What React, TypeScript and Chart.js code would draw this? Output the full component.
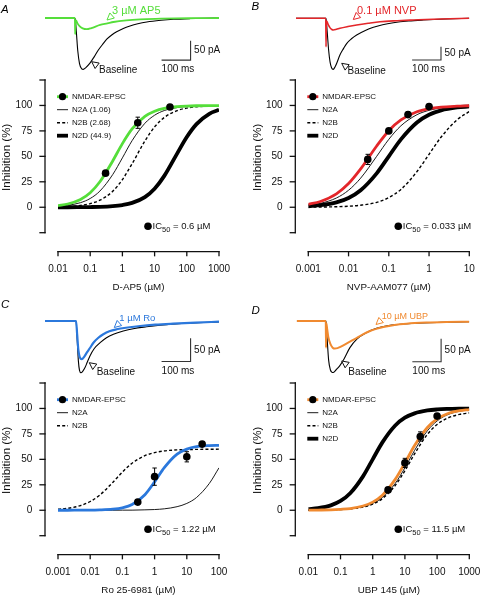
import React, { useEffect, useRef } from 'react';
import { Chart, registerables } from 'chart.js';

Chart.register(...registerables);

const FONT = '"Liberation Sans", Arial, Helvetica, sans-serif';

const GREEN = '#55de3a';
const RED = '#e3262a';
const BLUE = '#2b78dc';
const ORANGE = '#f08a30';

// ---------- shared y axis ----------
const yTicks = [-25, 0, 25, 50, 75, 100, 125];
const yTickLabels = ['', '0', '25', '50', '75', '100', ''];

// ---------- Panel A: D-AP5 ----------
const concA = [0.01, 0.02, 0.05, 0.1, 0.2, 0.5, 1, 2, 5, 10, 20, 50, 100, 200, 500, 1000];
const epscFitA = [1.6, 3.2, 7.7, 14.3, 25, 45.5, 62.5, 76.9, 89.3, 94.3, 97.1, 98.8, 99.4, 99.7, 99.9, 99.9];
const n2aFitA = [0.9, 1.9, 4.5, 8.6, 15.9, 32.1, 48.5, 65.4, 82.5, 90.4, 95.0, 97.9, 99.0, 99.5, 99.8, 99.9];
const n2bFitA = [0.4, 0.7, 1.8, 3.6, 6.9, 15.7, 27.2, 42.7, 65.1, 78.9, 88.2, 94.9, 97.4, 98.7, 99.5, 99.7];
const n2dFitA = [0, 0, 0.1, 0.2, 0.4, 1.1, 2.2, 4.3, 10.0, 18.2, 30.8, 52.7, 69.0, 81.7, 91.8, 95.7];
const doseA = [0.3, 3, 30];
const meanA = [33.5, 83, 98.5];
const semA = [2, 5.5, 1];
const xTicksA = [0.01, 0.1, 1, 10, 100, 1000];
const xTickLabelsA = ['0.01', '0.1', '1', '10', '100', '1000'];
const legendA = ['NMDAR-EPSC', 'N2A (1.06)', 'N2B (2.68)', 'N2D (44.9)'];
const baseTimeA = [0, 100, 104, 108, 113, 119, 126, 132, 140, 155, 170, 184, 200, 213, 230, 247, 270, 293, 320, 351, 400, 443, 500, 550, 600];
const baseCurrentA = [0, 0, -2, -35, -85, -118, -131, -133, -129, -117, -100, -83, -67, -55, -44, -35.5, -27, -20.7, -15, -10.4, -6, -3.4, -1.5, -0.5, 0];
const drugTimeA = [0, 100, 103, 104, 105, 107, 112, 120, 130, 144, 160, 190, 215, 236, 280, 328, 400, 450, 520, 600];
const drugCurrentA = [0, 0, 0, -42, -8, -6, -14, -22, -27, -29, -26, -18, -14, -10.4, -6, -3.4, -1.8, -1, -0.5, 0];

// ---------- Panel B: NVP-AAM077 ----------
const concB = [0.001, 0.002, 0.005, 0.01, 0.02, 0.05, 0.1, 0.2, 0.5, 1, 2, 5, 10];
const epscFitB = [2.9, 5.7, 13.2, 23.3, 37.7, 60.2, 75.2, 85.8, 93.8, 96.8, 98.4, 99.3, 99.7];
const n2aFitB = [2.0, 3.8, 9.1, 16.7, 28.6, 50, 66.7, 80, 90.9, 95.2, 97.6, 99.0, 99.5];
const n2bFitB = [0.1, 0.2, 0.5, 1.0, 2.0, 4.8, 9.5, 17.5, 35, 52, 69, 86, 94];
const n2dFitB = [1.0, 2.0, 4.8, 9.1, 16.7, 33.3, 50, 66.7, 83.3, 90.9, 95.2, 98.0, 99.0];
const doseB = [0.03, 0.1, 0.3, 1];
const meanB = [47, 75, 91, 99];
const semB = [5, 2, 2, 1];
const xTicksB = [0.001, 0.01, 0.1, 1, 10];
const xTickLabelsB = ['0.001', '0.01', '0.1', '1', '10'];
const legendB = ['NMDAR-EPSC', 'N2A', 'N2B', 'N2D'];
const baseTimeB = [0, 100, 104, 108, 113, 118, 123, 129, 135, 141, 152, 165, 176, 192, 210, 240, 268, 300, 337, 390, 441, 520, 600];
const baseCurrentB = [0, 0, 0, -50, -120, -165, -186, -192, -183, -169, -138, -113, -94, -77, -63, -46, -34, -24, -16.5, -10, -6.4, -2.5, 0];
const drugTimeB = [0, 100, 103, 104, 105, 107, 112, 118, 124, 129, 140, 152, 180, 210, 250, 291, 350, 406, 500, 600];
const drugCurrentB = [0, 0, 0, -107, -10, -12, -25, -36, -42, -44, -41.5, -37.6, -31, -25, -18.5, -12.8, -9, -6.4, -2.5, 0];

// ---------- Panel C: Ro 25-6981 ----------
const concC = [0.001, 0.002, 0.005, 0.01, 0.02, 0.05, 0.1, 0.2, 0.5, 1, 2, 5, 10, 20, 50, 100];
const epscFitC = [0, 0, 0.1, 0.1, 0.3, 1.0, 2.4, 5.6, 15.3, 27.9, 41.9, 55.2, 60.1, 62.4, 63.5, 63.8];
const n2aFitC = [0, 0, 0, 0, 0, 0, 0.1, 0.1, 0.4, 0.7, 1.4, 3.5, 6.7, 12.5, 26.3, 41.7];
const n2bFitC = [1.0, 1.9, 4.6, 8.6, 15, 27.3, 37.5, 46.2, 53.6, 56.6, 58.3, 59.3, 59.6, 59.8, 59.9, 60];
const doseC = [0.3, 1, 10, 30];
const meanC = [8, 33, 52.5, 65];
const semC = [2.5, 8.5, 5, 2];
const xTicksC = [0.001, 0.01, 0.1, 1, 10, 100];
const xTickLabelsC = ['0.001', '0.01', '0.1', '1', '10', '100'];
const legendC = ['NMDAR-EPSC', 'N2A', 'N2B'];
const baseTimeC = [0, 100, 107, 111, 115, 119, 124, 130, 138, 146, 155, 170, 190, 212, 236, 270, 304, 350, 397, 450, 489, 550, 600];
const baseCurrentC = [0, 0, 0, -40, -85, -106, -111, -108, -100, -88, -75, -59, -46.6, -36, -28.5, -21.5, -16.5, -12.5, -9.2, -6.5, -4.9, -3.2, -2.1];
const drugTimeC = [0, 100, 107, 111, 115, 120, 127, 135, 144, 155, 167, 184, 201, 222, 247, 285, 328, 380, 442, 520, 600];
const drugCurrentC = [0, 0, 0, -30, -62, -78, -82, -77, -68, -58, -46.6, -36, -28.5, -22, -17.8, -14, -10.7, -8, -5.8, -3.5, -1.5];

// ---------- Panel D: UBP 145 ----------
const concD = [0.01, 0.02, 0.05, 0.1, 0.2, 0.5, 1, 2, 5, 10, 20, 50, 100, 200, 500, 1000];
const epscFitD = [0.1, 0.2, 0.4, 0.9, 1.7, 4.2, 8.0, 14.8, 30.3, 46.5, 63.5, 81.3, 89.7, 94.6, 97.8, 98.9];
const n2aFitD = [0.1, 0.1, 0.4, 0.7, 1.4, 3.4, 6.7, 12.5, 26.3, 41.7, 58.8, 78.1, 87.7, 93.5, 97.3, 98.6];
const n2bFitD = [0.1, 0.1, 0.3, 0.6, 1.3, 3.1, 6.1, 11.4, 24.3, 38.8, 55.4, 74.6, 84.3, 90.2, 94.2, 95.6];
const n2dFitD = [1.0, 2.0, 4.8, 9.1, 16.7, 33.3, 50, 66.7, 83.3, 90.9, 95.2, 98.0, 99.0, 99.5, 99.8, 99.9];
const doseD = [3, 10, 30, 100];
const meanD = [20, 46.5, 72.5, 92.5];
const semD = [2, 4.5, 4.5, 1.5];
const xTicksD = [0.01, 0.1, 1, 10, 100, 1000];
const xTickLabelsD = ['0.01', '0.1', '1', '10', '100', '1000'];
const legendD = ['NMDAR-EPSC', 'N2A', 'N2B', 'N2D'];
const baseTimeD = [0, 100, 102, 106, 111, 117, 122, 127, 133, 140, 150, 165, 185, 210, 240, 280, 330, 400, 500, 600];
const baseCurrentD = [0, 0, 0, -40, -85, -106, -111, -112, -109, -104, -97, -82, -58, -39, -26, -15.5, -9, -5.5, -3, -1.5];
const drugTimeD = [0, 100, 101, 102, 103, 106, 110, 117, 125, 133, 142, 150, 162, 185, 208, 230, 255, 280, 301, 340, 382, 450, 520, 600];
const drugCurrentD = [0, 0, 0, -58, -5, -18, -35, -50, -58, -60, -59, -57, -53, -45, -37, -29, -21.7, -16.5, -13, -8.5, -5.8, -3.5, -2.2, -1.5];

const toXY = (xs: number[], ys: number[]) => xs.map((x, i) => ({ x, y: ys[i] }));

const PANELS = [
  {
    letter: 'A', ox: 0, oy: 0, letterTop: 3.5, letterLeft: 1,
    color: GREEN, drugLabel: '3 µM AP5', drugSize: 11, drugText: [112, 11], drugTip: [107, 20],
    baseTip: [91.7, 61.7], baseText: [99, 70],
    traceLeft: 45, traceRight: 219, yMin: -160.6, yMax: 46.6, barI: -109, drugWidth: 1.8,
    baseTime: baseTimeA, baseCurrent: baseCurrentA, drugTime: drugTimeA, drugCurrent: drugCurrentA,
    chartLeft: 58, chartRight: 219,
    conc: concA, fit: epscFitA, n2a: n2aFitA, n2b: n2bFitA, n2d: n2dFitA,
    dose: doseA, mean: meanA, sem: semA, xTicks: xTicksA, xTickLabels: xTickLabelsA,
    legend: legendA, title: 'D-AP5 (µM)', ic50: '0.6 µM',
  },
  {
    letter: 'B', ox: 250, oy: 0, letterTop: 1.2, letterLeft: 1.5,
    color: RED, drugLabel: '0.1 µM NVP', drugSize: 11, drugText: [107, 11], drugTip: [103.3, 19.5],
    baseTip: [91.7, 63.3], baseText: [97.5, 71.5],
    traceLeft: 46, traceRight: 219.3, yMin: -232, yMax: 68.8, barI: -157, drugWidth: 1.6,
    baseTime: baseTimeB, baseCurrent: baseCurrentB, drugTime: drugTimeB, drugCurrent: drugCurrentB,
    chartLeft: 58.3, chartRight: 219.3,
    conc: concB, fit: epscFitB, n2a: n2aFitB, n2b: n2bFitB, n2d: n2dFitB,
    dose: doseB, mean: meanB, sem: semB, xTicks: xTicksB, xTickLabels: xTickLabelsB,
    legend: legendB, title: 'NVP-AAM077 (µM)', ic50: '0.033 µM',
  },
  {
    letter: 'C', ox: 0, oy: 303, letterTop: -4.5, letterLeft: 1,
    color: BLUE, drugLabel: '1 µM Ro', drugSize: 9.5, drugText: [119.3, 15.7], drugTip: [114.3, 24.5],
    baseTip: [89.3, 59.7], baseText: [96.7, 69],
    traceLeft: 45, traceRight: 219, yMin: -133.1, yMax: 38.6, barI: -87, drugWidth: 2.2,
    baseTime: baseTimeC, baseCurrent: baseCurrentC, drugTime: drugTimeC, drugCurrent: drugCurrentC,
    chartLeft: 58, chartRight: 219,
    conc: concC, fit: epscFitC, n2a: n2aFitC, n2b: n2bFitC, n2d: null,
    dose: doseC, mean: meanC, sem: semC, xTicks: xTicksC, xTickLabels: xTickLabelsC,
    legend: legendC, title: 'Ro 25-6981 (µM)', ic50: '1.22 µM',
  },
  {
    letter: 'D', ox: 250, oy: 303, letterTop: 1.5, letterLeft: 1.5,
    color: ORANGE, drugLabel: '10 µM UBP', drugSize: 9, drugText: [131.7, 13.5], drugTip: [126, 21.5],
    baseTip: [91.7, 58], baseText: [98.3, 69],
    traceLeft: 46.7, traceRight: 219.3, yMin: -134.8, yMax: 39.1, barI: -88.5, drugWidth: 2,
    baseTime: baseTimeD, baseCurrent: baseCurrentD, drugTime: drugTimeD, drugCurrent: drugCurrentD,
    chartLeft: 58.3, chartRight: 219.3,
    conc: concD, fit: epscFitD, n2a: n2aFitD, n2b: n2bFitD, n2d: n2dFitD,
    dose: doseD, mean: meanD, sem: semD, xTicks: xTicksD, xTickLabels: xTickLabelsD,
    legend: legendD, title: 'UBP 145 (µM)', ic50: '11.5 µM',
  },
];

const CANVAS_W = 230;
const TRACE_H = 80;
const DOSE_TOP = 76;
const DOSE_H = 220;

function drawTriangle(ctx: any, tx: number, ty: number, dx: number, dy: number, color: string) {
  const len = Math.hypot(dx, dy);
  const ux = dx / len, uy = dy / len;
  const L = 6.8, W = 3.4;
  const bx = tx - ux * L, by = ty - uy * L;
  ctx.beginPath();
  ctx.moveTo(tx, ty);
  ctx.lineTo(bx - uy * W, by + ux * W);
  ctx.lineTo(bx + uy * W, by - ux * W);
  ctx.closePath();
  ctx.fillStyle = '#fff';
  ctx.fill();
  ctx.strokeStyle = color;
  ctx.lineWidth = 1;
  ctx.stroke();
}

function TraceChart({ p }: any) {
  const ref = useRef<HTMLCanvasElement | null>(null);
  useEffect(() => {
    const deco = {
      id: 'traceDeco',
      afterDraw(chart: any) {
        const { ctx, scales } = chart;
        const x = scales.x, y = scales.y;
        ctx.save();
        // scale bar
        const cx = x.getPixelForValue(502);
        const cy = y.getPixelForValue(p.barI);
        const topY = y.getPixelForValue(p.barI + 50);
        const lx = x.getPixelForValue(402);
        ctx.strokeStyle = '#333';
        ctx.lineWidth = 1.1;
        ctx.beginPath();
        ctx.moveTo(cx, topY);
        ctx.lineTo(cx, cy);
        ctx.lineTo(lx, cy);
        ctx.stroke();
        ctx.fillStyle = '#111';
        ctx.font = `10px ${FONT}`;
        ctx.textBaseline = 'middle';
        ctx.textAlign = 'left';
        ctx.fillText('50 pA', cx + 3.5, (cy + topY) / 2);
        ctx.fillText('100 ms', lx, cy + 9.5);
        // baseline label
        drawTriangle(ctx, p.baseTip[0], p.baseTip[1], -0.8, -0.6, '#111');
        ctx.fillStyle = '#111';
        ctx.font = `10px ${FONT}`;
        ctx.fillText('Baseline', p.baseText[0], p.baseText[1]);
        // drug label
        drawTriangle(ctx, p.drugTip[0], p.drugTip[1], -0.75, 0.66, p.color);
        ctx.fillStyle = p.color;
        ctx.font = `${p.drugSize}px ${FONT}`;
        ctx.fillText(p.drugLabel, p.drugText[0], p.drugText[1]);
        ctx.restore();
      },
    };
    const chart = new Chart(ref.current as any, {
      type: 'line',
      data: {
        datasets: [
          {
            data: toXY(p.drugTime, p.drugCurrent), borderColor: p.color, borderWidth: p.drugWidth,
            pointRadius: 0, cubicInterpolationMode: 'monotone', fill: false,
          },
          {
            data: toXY(p.baseTime, p.baseCurrent), borderColor: '#000', borderWidth: 1.1,
            pointRadius: 0, cubicInterpolationMode: 'monotone', fill: false,
          },
        ],
      } as any,
      options: {
        animation: false,
        responsive: false,
        events: [],
        layout: { padding: { left: p.traceLeft, right: CANVAS_W - p.traceRight, top: 0, bottom: 0 } },
        plugins: { legend: { display: false }, tooltip: { enabled: false } },
        scales: {
          x: { type: 'linear', min: 0, max: 600, display: false },
          y: { type: 'linear', min: p.yMin, max: p.yMax, display: false },
        },
      } as any,
      plugins: [deco],
    });
    return () => chart.destroy();
  }, [p]);
  return (
    <canvas
      ref={ref}
      width={CANVAS_W}
      height={TRACE_H}
      style={{ position: 'absolute', left: p.ox, top: p.oy, width: CANVAS_W, height: TRACE_H }}
    />
  );
}

function DoseChart({ p }: any) {
  const ref = useRef<HTMLCanvasElement | null>(null);
  useEffect(() => {
    const styles: any[] = [
      { color: p.color, width: 2.8, dash: [], dot: true },
      { color: '#000', width: 0.9, dash: [] },
      { color: '#000', width: 1.4, dash: [3, 2.2] },
      { color: '#000', width: 3.8, dash: [] },
    ];
    const deco = {
      id: 'doseDeco',
      beforeDatasetsDraw(chart: any) {
        const { ctx, chartArea: a, scales } = chart;
        const x = scales.x, y = scales.y;
        ctx.save();
        ctx.strokeStyle = '#111';
        ctx.fillStyle = '#111';
        ctx.lineWidth = 1.3;
        ctx.lineCap = 'square';
        // y axis
        const ax = a.left - 13;
        ctx.beginPath();
        ctx.moveTo(ax, y.getPixelForValue(yTicks[0]));
        ctx.lineTo(ax, y.getPixelForValue(yTicks[yTicks.length - 1]));
        ctx.stroke();
        ctx.font = `10px ${FONT}`;
        ctx.textAlign = 'right';
        ctx.textBaseline = 'middle';
        yTicks.forEach((v, i) => {
          const py = y.getPixelForValue(v);
          ctx.beginPath();
          ctx.moveTo(ax - 5, py);
          ctx.lineTo(ax, py);
          ctx.stroke();
          if (yTickLabels[i]) ctx.fillText(yTickLabels[i], ax - 12.7, py);
        });
        // y title
        ctx.save();
        ctx.translate(a.left - 50.7, (a.top + a.bottom) / 2 + 1);
        ctx.rotate(-Math.PI / 2);
        ctx.textAlign = 'center';
        ctx.font = `11.5px ${FONT}`;
        ctx.fillText('Inhibition (%)', 0, 0);
        ctx.restore();
        // x axis
        const ay = a.bottom + 19;
        const xs = p.xTicks;
        ctx.beginPath();
        ctx.moveTo(x.getPixelForValue(xs[0]), ay);
        ctx.lineTo(x.getPixelForValue(xs[xs.length - 1]), ay);
        ctx.stroke();
        ctx.textAlign = 'center';
        ctx.font = `10px ${FONT}`;
        xs.forEach((v: number, i: number) => {
          const px = x.getPixelForValue(v);
          ctx.beginPath();
          ctx.moveTo(px, ay);
          ctx.lineTo(px, ay + 4);
          ctx.stroke();
          ctx.fillText(p.xTickLabels[i], px, ay + 17.6);
        });
        ctx.font = `9.8px ${FONT}`;
        ctx.fillText(p.title, (a.left + a.right) / 2, ay + 35.6);
        ctx.restore();
      },
      afterDatasetsDraw(chart: any) {
        const { ctx, chartArea: a, scales } = chart;
        const x = scales.x, y = scales.y;
        ctx.save();
        // error bars
        ctx.strokeStyle = '#000';
        ctx.lineWidth = 1;
        p.dose.forEach((d: number, i: number) => {
          const px = x.getPixelForValue(d);
          const y1 = y.getPixelForValue(p.mean[i] + p.sem[i]);
          const y2 = y.getPixelForValue(p.mean[i] - p.sem[i]);
          ctx.beginPath();
          ctx.moveTo(px, y1); ctx.lineTo(px, y2);
          ctx.moveTo(px - 2.2, y1); ctx.lineTo(px + 2.2, y1);
          ctx.moveTo(px - 2.2, y2); ctx.lineTo(px + 2.2, y2);
          ctx.stroke();
        });
        // legend
        ctx.font = `8px ${FONT}`;
        ctx.textAlign = 'left';
        ctx.textBaseline = 'middle';
        p.legend.forEach((label: string, i: number) => {
          const st = styles[i];
          const ry = a.top + 16.7 + i * 13;
          const x0 = a.left - 1, x1 = a.left + 10;
          ctx.strokeStyle = st.color;
          ctx.lineWidth = st.width;
          ctx.setLineDash(st.dash);
          ctx.lineCap = 'butt';
          ctx.beginPath();
          ctx.moveTo(x0, ry); ctx.lineTo(x1, ry);
          ctx.stroke();
          ctx.setLineDash([]);
          if (st.dot) {
            ctx.fillStyle = '#000';
            ctx.beginPath();
            ctx.arc((x0 + x1) / 2, ry, 3.6, 0, Math.PI * 2);
            ctx.fill();
          }
          ctx.fillStyle = '#111';
          ctx.fillText(label, a.left + 14, ry + 0.5);
        });
        // IC50
        const cx = a.left + 90;
        const cy = y.getPixelForValue(0) + 19;
        ctx.fillStyle = '#000';
        ctx.beginPath();
        ctx.arc(cx, cy, 3.8, 0, Math.PI * 2);
        ctx.fill();
        ctx.fillStyle = '#111';
        ctx.font = `9.5px ${FONT}`;
        let tx = cx + 4.5;
        ctx.fillText('IC', tx, cy);
        tx += ctx.measureText('IC').width;
        ctx.font = `7.5px ${FONT}`;
        ctx.fillText('50', tx, cy + 3.5);
        tx += ctx.measureText('50').width;
        ctx.font = `9.5px ${FONT}`;
        ctx.fillText(' = ' + p.ic50, tx, cy);
        ctx.restore();
      },
    };
    const datasets: any[] = [
      {
        data: toXY(p.dose, p.mean), showLine: false, pointRadius: 3.8, pointBackgroundColor: '#000',
        pointBorderColor: '#000', pointBorderWidth: 0, borderColor: '#000',
      },
      {
        data: toXY(p.conc, p.fit), borderColor: p.color, borderWidth: 2.8, pointRadius: 0,
        cubicInterpolationMode: 'monotone', fill: false,
      },
      {
        data: toXY(p.conc, p.n2a), borderColor: '#000', borderWidth: 0.9, pointRadius: 0,
        cubicInterpolationMode: 'monotone', fill: false,
      },
      {
        data: toXY(p.conc, p.n2b), borderColor: '#000', borderWidth: 1.4, borderDash: [3, 2.2],
        pointRadius: 0, cubicInterpolationMode: 'monotone', fill: false,
      },
    ];
    if (p.n2d) {
      datasets.push({
        data: toXY(p.conc, p.n2d), borderColor: '#000', borderWidth: 3.8, pointRadius: 0,
        cubicInterpolationMode: 'monotone', fill: false,
      });
    }
    const chart = new Chart(ref.current as any, {
      type: 'line',
      data: { datasets } as any,
      options: {
        animation: false,
        responsive: false,
        events: [],
        layout: {
          padding: {
            left: p.chartLeft,
            right: CANVAS_W - p.chartRight,
            top: 79 - DOSE_TOP,
            bottom: DOSE_H - (232.7 - DOSE_TOP),
          },
        },
        plugins: { legend: { display: false }, tooltip: { enabled: false } },
        scales: {
          x: { type: 'logarithmic', min: p.xTicks[0], max: p.xTicks[p.xTicks.length - 1], display: false },
          y: { type: 'linear', min: -25, max: 125, display: false },
        },
      } as any,
      plugins: [deco],
    });
    return () => chart.destroy();
  }, [p]);
  return (
    <canvas
      ref={ref}
      width={CANVAS_W}
      height={DOSE_H}
      style={{ position: 'absolute', left: p.ox, top: p.oy + DOSE_TOP, width: CANVAS_W, height: DOSE_H }}
    />
  );
}

export default function App() {
  return (
    <div
      style={{
        position: 'absolute', left: 0, top: 0, width: 480, height: 596,
        overflow: 'hidden', background: '#fff', fontFamily: FONT,
      }}
    >
      {PANELS.map((p) => (
        <React.Fragment key={p.letter}>
          <TraceChart p={p} />
          <DoseChart p={p} />
          <span
            style={{
              position: 'absolute', left: p.ox + p.letterLeft, top: p.oy + p.letterTop,
              fontSize: 11.5, lineHeight: '11.5px', fontStyle: 'italic', color: '#000',
            }}
          >
            {p.letter}
          </span>
        </React.Fragment>
      ))}
    </div>
  );
}
